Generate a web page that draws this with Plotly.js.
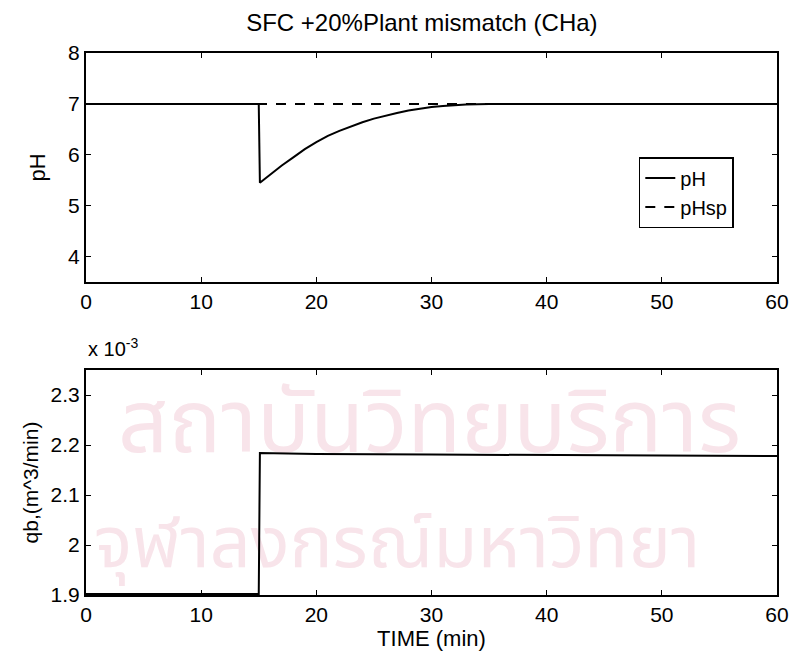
<!DOCTYPE html>
<html>
<head>
<meta charset="utf-8">
<script src="https://cdn.plot.ly/plotly-3.0.1.min.js"></script>
<style>
  html, body { margin: 0; padding: 0; background: #ffffff; }
  #wrap { position: relative; width: 793px; height: 659px; overflow: hidden; background: #ffffff; }
  .wm { position: absolute; color: #f8e4ea; white-space: nowrap; font-family: "Noto Sans Thai", "Noto Sans", "DejaVu Sans", sans-serif; line-height: 1; }
  #chart { position: absolute; left: 0; top: 0; width: 793px; height: 659px; }
</style>
</head>
<body>
<div id="wrap">
  <div class="wm" style="left:118px; top:382px; font-size:88px;">สถาบันวิทยบริการ</div>
  <div class="wm" style="left:94px; top:509px; font-size:72px;">จุฬาลงกรณ์มหาวิทยา</div>
  <div id="chart"></div>
</div>
<script>
// ---- data ----
const titleText = "SFC +20%Plant mismatch (CHa)";

// top panel: pH response and set point
const tPH = [0, 15, 15.1, 16, 17, 18, 19, 20, 21, 22, 23, 24, 25, 26, 27, 28, 29, 30, 31, 32, 33, 35, 40, 60];
const pH  = [7, 7, 5.45, 5.62, 5.79, 5.95, 6.11, 6.25, 6.37, 6.47, 6.56, 6.64, 6.71, 6.77, 6.82, 6.87, 6.91, 6.94, 6.96, 6.98, 6.99, 7.0, 7.0, 7.0];
const tSP = [0, 60];
const pHsp = [7, 7];

// bottom panel: base flow qb (units of 1e-3 m^3/min)
const tQB = [0, 15, 15.1, 20, 30, 40, 50, 60];
const qbE3 = [1.902, 1.902, 2.184, 2.182, 2.181, 2.180, 2.179, 2.178];

const xTicks = [0, 10, 20, 30, 40, 50, 60];
const pHTicks = [4, 5, 6, 7, 8];
const qbTicks = [1.9, 2, 2.1, 2.2, 2.3];

const seriesNames = ["pH", "pHsp"];
const yLabelTop = "pH";
const yLabelBottom = "qb,(m^3/min)";
const xLabel = "TIME (min)";
const expLabel = "x 10<sup>-3</sup>";

// ---- figure ----
const FONT = "Liberation Sans, Arial, Helvetica, sans-serif";
const black = "#000000";

const traces = [
  { x: tPH, y: pH, name: seriesNames[0], type: "scatter", mode: "lines",
    line: { color: black, width: 2 }, xaxis: "x", yaxis: "y" },
  { x: tSP, y: pHsp, name: seriesNames[1], type: "scatter", mode: "lines",
    line: { color: black, width: 2, dash: "10px,9px" }, xaxis: "x", yaxis: "y" },
  { x: tQB, y: qbE3, name: "qb", type: "scatter", mode: "lines", showlegend: false,
    line: { color: black, width: 2 }, xaxis: "x2", yaxis: "y2" }
];

function axisBase() {
  return {
    showline: true, linecolor: black, linewidth: 2, mirror: "ticks",
    ticks: "inside", ticklen: 5, tickwidth: 1, tickcolor: black,
    showgrid: false, zeroline: false, automargin: false,
    tickfont: { family: FONT, size: 21, color: black }
  };
}

const layout = {
  width: 793, height: 659,
  paper_bgcolor: "rgba(0,0,0,0)", plot_bgcolor: "rgba(0,0,0,0)",
  margin: { l: 86, r: 16, t: 53, b: 64 },
  showlegend: true,
  title: { text: titleText, font: { family: FONT, size: 24, color: black },
           xref: "container", yref: "container", x: 0.532, xanchor: "center", y: 0.966, yanchor: "middle" },
  xaxis: Object.assign(axisBase(), { domain: [0, 1], range: [0, 60], tickvals: xTicks, anchor: "y" }),
  yaxis: Object.assign(axisBase(), { domain: [0.5775, 1], range: [3.5, 8], tickvals: pHTicks, anchor: "x",
           title: { text: yLabelTop, font: { family: FONT, size: 22, color: black }, standoff: 16 } }),
  xaxis2: Object.assign(axisBase(), { domain: [0, 1], range: [0, 60], tickvals: xTicks, anchor: "y2",
           title: { text: xLabel, font: { family: FONT, size: 22, color: black }, standoff: 3 } }),
  yaxis2: Object.assign(axisBase(), { domain: [0, 0.415], range: [1.9, 2.35], tickvals: qbTicks, anchor: "x2",
           title: { text: yLabelBottom, font: { family: FONT, size: 21, color: black }, standoff: 6 } }),
  legend: { x: 0.80, y: 0.808, xanchor: "left", yanchor: "top", xref: "paper", yref: "paper",
            bgcolor: "#ffffff", bordercolor: black, borderwidth: 1.5,
            font: { family: FONT, size: 20, color: black }, itemwidth: 30, tracegroupgap: 0 },
  annotations: [
    { text: expLabel, xref: "paper", yref: "paper", x: 0, y: 0.456, xanchor: "left", yanchor: "middle",
      showarrow: false, font: { family: FONT, size: 20, color: black } }
  ]
};

Plotly.newPlot("chart", traces, layout, { staticPlot: true, displayModeBar: false });
</script>
</body>
</html>
